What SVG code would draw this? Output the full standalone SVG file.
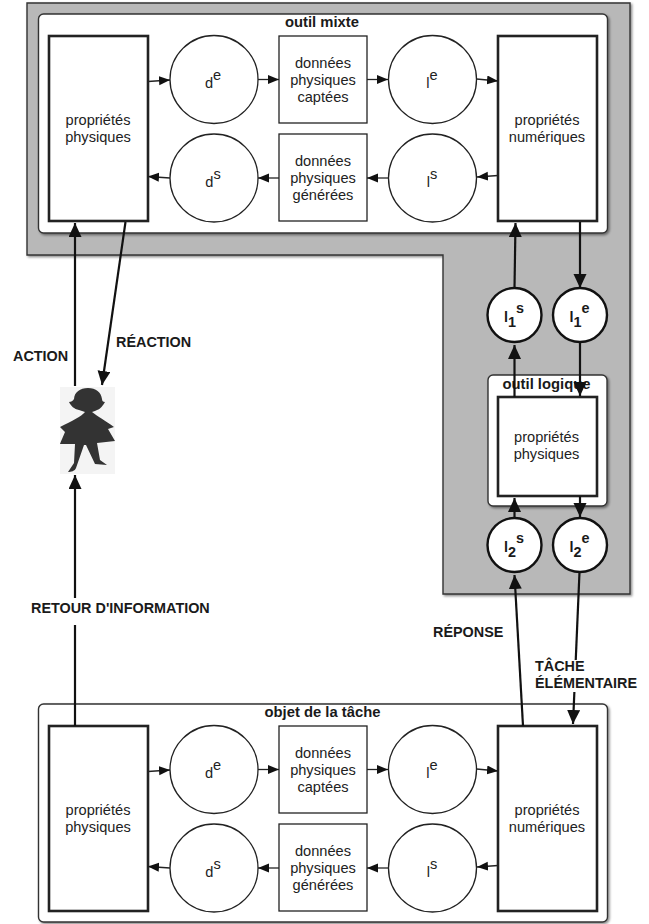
<svg xmlns="http://www.w3.org/2000/svg" width="649" height="924" viewBox="0 0 649 924">
<style>
text{font-family:"Liberation Sans",Arial,Helvetica,sans-serif;font-size:14.6px;fill:#222;text-anchor:middle}
.t{font-weight:bold;font-size:14.8px;fill:#1a1a1a}
.lab{font-weight:bold;font-size:14.4px;fill:#1a1a1a;text-anchor:start}
.frame{fill:#fff;stroke:#333;stroke-width:1.4;filter:url(#sh)}
.big{fill:#fff;stroke:#222;stroke-width:2.6}
.box{fill:#fff;stroke:#222;stroke-width:1.3}
.c{fill:#fff;stroke:#222;stroke-width:1.3}
.cb{fill:#fff;stroke:#111;stroke-width:2.4}
.ln{font-size:14.4px;font-weight:bold;text-anchor:start;fill:#1a1a1a}
.thin{fill:none;stroke:#222;stroke-width:1.3;marker-end:url(#a1)}
.thick{fill:none;stroke:#111;stroke-width:2.2;marker-end:url(#a2)}
</style>
<defs>
<filter id="sh" x="-5%" y="-5%" width="110%" height="110%"><feDropShadow dx="1.5" dy="1.5" stdDeviation="1" flood-color="#000" flood-opacity="0.45"/></filter>
<marker id="a1" markerUnits="userSpaceOnUse" markerWidth="12" markerHeight="10" refX="11" refY="4.500" orient="auto"><path d="M0 0L11 4.500L0 9Z" fill="#111"/></marker>
<marker id="a2" markerUnits="userSpaceOnUse" markerWidth="15" markerHeight="14" refX="14" refY="6.500" orient="auto"><path d="M0 0L14 6.500L0 13Z" fill="#111"/></marker>
</defs>
<rect width="649" height="924" fill="#fff"/>
<g id="outil-support"><path d="M27 3H630V594H443V255H27Z" fill="#b8b8b8" stroke="#333" stroke-width="1.4" filter="url(#sh)"/></g>
<g id="outil-mixte"><rect class="frame" x="38.500" y="14" width="569" height="219" rx="5"/><text class="t" x="322" y="27">outil mixte</text></g>
<g id="outil-logique"><rect class="frame" x="488" y="375" width="119" height="131" rx="5"/><text class="t" x="546.500" y="389">outil logique</text></g>
<g id="objet-tache"><rect class="frame" x="38.500" y="704" width="569" height="218" rx="5"/><text class="t" x="322.500" y="717">objet de la tâche</text></g>

<g id="m-pp"><rect class="big" x="49" y="36" width="99" height="185"/><text x="98" y="125">propriétés</text><text x="98" y="142">physiques</text></g>
<g id="m-de"><circle class="c" cx="214" cy="79.500" r="44"/><text x="213" y="88">d<tspan dy="-8">e</tspan></text></g>
<g id="m-ds"><circle class="c" cx="214" cy="178" r="44"/><text x="213" y="187">d<tspan dy="-8">s</tspan></text></g>
<g id="m-dc"><rect class="box" x="279" y="36" width="88" height="87"/><text x="323" y="67.500">données</text><text x="323" y="84.500">physiques</text><text x="323" y="101.500">captées</text></g>
<g id="m-dg"><rect class="box" x="279" y="134" width="88" height="87"/><text x="323" y="166">données</text><text x="323" y="183">physiques</text><text x="323" y="200">générées</text></g>
<g id="m-le"><circle class="c" cx="432.500" cy="79.500" r="44"/><text x="432" y="88">l<tspan dy="-8">e</tspan></text></g>
<g id="m-ls"><circle class="c" cx="432.500" cy="178" r="44"/><text x="432" y="187">l<tspan dy="-8">s</tspan></text></g>
<g id="m-pn"><rect class="big" x="498" y="36" width="99" height="185"/><text x="547" y="125">propriétés</text><text x="547" y="142">numériques</text></g>

<g id="l1s"><circle class="cb" cx="514.500" cy="315" r="27"/><text class="ln" x="504" y="322">l<tspan dy="5">1</tspan><tspan dy="-14">s</tspan></text></g>
<g id="l1e"><circle class="cb" cx="580" cy="315" r="27"/><text class="ln" x="569.500" y="322">l<tspan dy="5">1</tspan><tspan dy="-14">e</tspan></text></g>
<g id="l-pp"><rect class="big" x="498" y="397" width="99" height="99"/><text x="546.500" y="442">propriétés</text><text x="546.500" y="459">physiques</text></g>
<g id="l2s"><circle class="cb" cx="514.500" cy="545" r="27"/><text class="ln" x="504" y="552">l<tspan dy="5">2</tspan><tspan dy="-14">s</tspan></text></g>
<g id="l2e"><circle class="cb" cx="580" cy="545" r="27"/><text class="ln" x="569.500" y="552">l<tspan dy="5">2</tspan><tspan dy="-14">e</tspan></text></g>

<g id="o-pp"><rect class="big" x="49" y="726" width="99" height="185"/><text x="98" y="815">propriétés</text><text x="98" y="832">physiques</text></g>
<g id="o-de"><circle class="c" cx="214" cy="769.500" r="44"/><text x="213" y="778">d<tspan dy="-8">e</tspan></text></g>
<g id="o-ds"><circle class="c" cx="214" cy="868" r="44"/><text x="213" y="877">d<tspan dy="-8">s</tspan></text></g>
<g id="o-dc"><rect class="box" x="279" y="726" width="88" height="87"/><text x="323" y="758">données</text><text x="323" y="775">physiques</text><text x="323" y="792">captées</text></g>
<g id="o-dg"><rect class="box" x="279" y="824" width="88" height="87"/><text x="323" y="856">données</text><text x="323" y="873">physiques</text><text x="323" y="890">générées</text></g>
<g id="o-le"><circle class="c" cx="432.500" cy="769.500" r="44"/><text x="432" y="778">l<tspan dy="-8">e</tspan></text></g>
<g id="o-ls"><circle class="c" cx="432.500" cy="868" r="44"/><text x="432" y="877">l<tspan dy="-8">s</tspan></text></g>
<g id="o-pn"><rect class="big" x="498" y="726" width="99" height="185"/><text x="547" y="815">propriétés</text><text x="547" y="832">numériques</text></g>

<g id="personne"><rect x="60" y="387" width="55" height="87" fill="#f4f4f4"/>
<path d="M88 388C80 388 74.500 392 74 399C73 401 71 402 69 402C71 406 74 409 79 410C81 411 83 411 85 412C82 416 72 421 60 427L65 432C63 437 61 441 60 444H75L74 463L68 472C71 472 75 471 76 468L84 445H86L95 464L107 465L100 460L97 443L115 441L108 429L114 427C106 421 97 416 92 412C94 411 96 411 97 410C101 409 103 405 105 402C103 402 102 401 102 399C101 392 96 388 88 388Z" fill="#333"/></g>

<g id="connectors">
<path class="thin" d="M148 81.500L170 80"/><path class="thin" d="M258 79.500H279"/><path class="thin" d="M367 79.500H388"/><path class="thin" d="M476.500 79L498 81"/>
<path class="thin" d="M498 175.500L477 177"/><path class="thin" d="M388 178H367"/><path class="thin" d="M279 178H258"/><path class="thin" d="M170 178L148 176.500"/>
<path class="thin" d="M148 771.500L170 770"/><path class="thin" d="M258 769.500H279"/><path class="thin" d="M367 769.500H388"/><path class="thin" d="M476.500 769L498 771"/>
<path class="thin" d="M498 865.500L477 867"/><path class="thin" d="M388 868H367"/><path class="thin" d="M279 868H258"/><path class="thin" d="M170 868L148 866.500"/>
<path class="thick" d="M75 386V223"/>
<path class="thick" d="M125.500 222L102 385"/>
<path class="thick" d="M75 726V475"/>
<path class="thick" d="M514.500 288L515.500 223"/>
<path class="thick" d="M580 222V288"/>
<path class="thick" d="M514.500 397V345"/>
<path class="thick" d="M580 342V396"/>
<path class="thick" d="M514.500 518V498"/>
<path class="thick" d="M580 496V517"/>
<path class="thick" d="M523 726L514.500 575"/>
<path class="thick" d="M579.500 572L573 724"/>
</g>
<g id="labels">
<text class="lab" x="13" y="361">ACTION</text>
<text class="lab" x="116" y="347">RÉACTION</text>
<rect x="30" y="598" width="182" height="27" fill="#fff"/>
<text class="lab" x="31" y="613">RETOUR D'INFORMATION</text>
<text class="lab" x="433" y="637">RÉPONSE</text>
<rect x="534" y="660" width="104" height="32" fill="#fff"/>
<text class="lab" x="535" y="671">TÂCHE</text>
<text class="lab" x="535" y="688">ÉLÉMENTAIRE</text>
</g>
</svg>
